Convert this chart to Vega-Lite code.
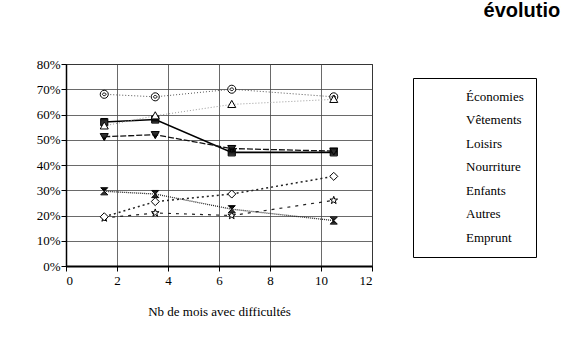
{
  "$schema": "https://vega.github.io/schema/vega-lite/v6.json",
  "autosize": {"type": "none"},
  "width": 306,
  "height": 202,
  "padding": {"left": 66, "top": 64, "right": 189, "bottom": 96},
  "background": "white",
  "title": {
    "text": ["évolution des stratégies", "de recours"],
    "subtitle": "population pauvre",
    "anchor": "end",
    "dx": 176,
    "offset": 0,
    "font": "Liberation Sans",
    "fontSize": 20,
    "fontWeight": "bold",
    "color": "black",
    "lineHeight": 22,
    "subtitleFont": "Liberation Sans",
    "subtitleFontSize": 13,
    "subtitleFontWeight": "bold",
    "subtitleColor": "black",
    "subtitlePadding": 2
  },
  "data": {
    "values": [
      {"serie": "Économies", "mois": 1.5, "part": 0.57},
      {"serie": "Économies", "mois": 3.5, "part": 0.58},
      {"serie": "Économies", "mois": 6.5, "part": 0.45},
      {"serie": "Économies", "mois": 10.5, "part": 0.45},
      {"serie": "Vêtements", "mois": 1.5, "part": 0.68},
      {"serie": "Vêtements", "mois": 3.5, "part": 0.67},
      {"serie": "Vêtements", "mois": 6.5, "part": 0.70},
      {"serie": "Vêtements", "mois": 10.5, "part": 0.67},
      {"serie": "Loisirs", "mois": 1.5, "part": 0.555},
      {"serie": "Loisirs", "mois": 3.5, "part": 0.595},
      {"serie": "Loisirs", "mois": 6.5, "part": 0.64},
      {"serie": "Loisirs", "mois": 10.5, "part": 0.66},
      {"serie": "Nourriture", "mois": 1.5, "part": 0.512},
      {"serie": "Nourriture", "mois": 3.5, "part": 0.52},
      {"serie": "Nourriture", "mois": 6.5, "part": 0.465},
      {"serie": "Nourriture", "mois": 10.5, "part": 0.455},
      {"serie": "Enfants", "mois": 1.5, "part": 0.19},
      {"serie": "Enfants", "mois": 3.5, "part": 0.21},
      {"serie": "Enfants", "mois": 6.5, "part": 0.20},
      {"serie": "Enfants", "mois": 10.5, "part": 0.26},
      {"serie": "Autres", "mois": 1.5, "part": 0.195},
      {"serie": "Autres", "mois": 3.5, "part": 0.255},
      {"serie": "Autres", "mois": 6.5, "part": 0.285},
      {"serie": "Autres", "mois": 10.5, "part": 0.355},
      {"serie": "Emprunt", "mois": 1.5, "part": 0.296},
      {"serie": "Emprunt", "mois": 3.5, "part": 0.285},
      {"serie": "Emprunt", "mois": 6.5, "part": 0.225},
      {"serie": "Emprunt", "mois": 10.5, "part": 0.18}
    ]
  },
  "encoding": {
    "x": {"field": "mois", "type": "quantitative", "scale": {"domain": [0, 12], "nice": false},
      "axis": {"values": [0, 2, 4, 6, 8, 10, 12], "tickSize": 5, "labelPadding": 3, "domainWidth": 2,
        "title": "Nb de mois avec difficultés", "titlePadding": 18}},
    "y": {"field": "part", "type": "quantitative", "scale": {"domain": [0, 0.8], "nice": false},
      "axis": {"values": [0, 0.1, 0.2, 0.3, 0.4, 0.5, 0.6, 0.7, 0.8], "format": ".0%", "tickSize": 5, "labelPadding": 1, "domainWidth": 1.5, "title": null}}
  },
  "layer": [
    {"transform": [{"filter": "datum.serie === 'Économies'"}],
     "mark": {"type": "line", "stroke": "#000000", "strokeWidth": 1.6}, "encoding": {}},
    {"transform": [{"filter": "datum.serie === 'Vêtements'"}],
     "mark": {"type": "line", "stroke": "#555555", "strokeWidth": 1, "strokeDash": [1, 2]}, "encoding": {}},
    {"transform": [{"filter": "datum.serie === 'Loisirs'"}],
     "mark": {"type": "line", "stroke": "#999999", "strokeWidth": 1, "strokeDash": [1, 2]}, "encoding": {}},
    {"transform": [{"filter": "datum.serie === 'Nourriture'"}],
     "mark": {"type": "line", "stroke": "#111111", "strokeWidth": 1.3, "strokeDash": [6, 2]}, "encoding": {}},
    {"transform": [{"filter": "datum.serie === 'Enfants'"}],
     "mark": {"type": "line", "stroke": "#222222", "strokeWidth": 1.2, "strokeDash": [3, 5]}, "encoding": {}},
    {"transform": [{"filter": "datum.serie === 'Autres'"}],
     "mark": {"type": "line", "stroke": "#222222", "strokeWidth": 1.5, "strokeDash": [2, 3]}, "encoding": {}},
    {"transform": [{"filter": "datum.serie === 'Emprunt'"}],
     "mark": {"type": "line", "stroke": "#222222", "strokeWidth": 1.3, "strokeDash": [1, 1]}, "encoding": {}},
    {
      "mark": {"type": "point", "stroke": "black", "fill": "white", "filled": false, "strokeWidth": 1, "size": 80, "opacity": 1},
      "encoding": {
        "shape": {"field": "serie", "type": "nominal",
          "scale": {"domain": ["Économies", "Vêtements", "Loisirs", "Nourriture", "Enfants", "Autres", "Emprunt"],
            "range": [
              "M-0.8,-0.8H0.8V0.8H-0.8ZM-0.8,-0.6H0.8M-0.8,-0.4H0.8M-0.8,-0.2H0.8M-0.8,0H0.8M-0.8,0.2H0.8M-0.8,0.4H0.8M-0.8,0.6H0.8",
              "M-0.9,0A0.9,0.9 0 1,0 0.9,0A0.9,0.9 0 1,0 -0.9,0ZM-0.4,0A0.4,0.3 0 1,0 0.4,0A0.4,0.3 0 1,0 -0.4,0Z",
              "M0,-0.9L0.9,0.7L-0.9,0.7Z",
              "M-0.9,-0.7L0.9,-0.7L0,0.9ZM-0.84,-0.6H0.84M-0.73,-0.4H0.73M-0.62,-0.2H0.62M-0.51,0H0.51M-0.39,0.2H0.39M-0.28,0.4H0.28M-0.17,0.6H0.17",
              "M0,-0.9L0.212,-0.291L0.856,-0.278L0.342,0.111L0.529,0.728L0,0.36L-0.529,0.728L-0.342,0.111L-0.856,-0.278L-0.212,-0.291Z",
              "M0,-0.9L0.9,0L0,0.9L-0.9,0Z",
              "M-0.8,-0.8H0.8L0,0L0.8,0.8H-0.8L0,0ZM-0.6,-0.6H0.6M-0.4,-0.4H0.4M-0.2,-0.2H0.2M-0.2,0.2H0.2M-0.4,0.4H0.4M-0.6,0.6H0.6"
            ]},
          "legend": {
            "title": null,
            "orient": "none",
            "legendX": 347,
            "legendY": 14,
            "strokeColor": "black",
            "fillColor": "white",
            "padding": 12,
            "labelFont": "Liberation Serif",
            "labelFontSize": 13,
            "labelColor": "black",
            "symbolSize": 64,
            "symbolStrokeColor": "black",
            "symbolFillColor": "white",
            "symbolStrokeWidth": 1,
            "labelOffset": 28,
            "rowPadding": 9.5
          }
        }
      }
    }
  ],
  "config": {
    "view": {"stroke": "black", "strokeWidth": 1},
    "axis": {
      "labelFont": "Liberation Serif", "labelFontSize": 13, "labelColor": "black",
      "gridColor": "#444444", "gridWidth": 0.8, "domainColor": "black", "tickColor": "black",
      "titleFont": "Liberation Serif", "titleFontSize": 13, "titleFontWeight": "normal", "titleColor": "black"
    }
  }
}
